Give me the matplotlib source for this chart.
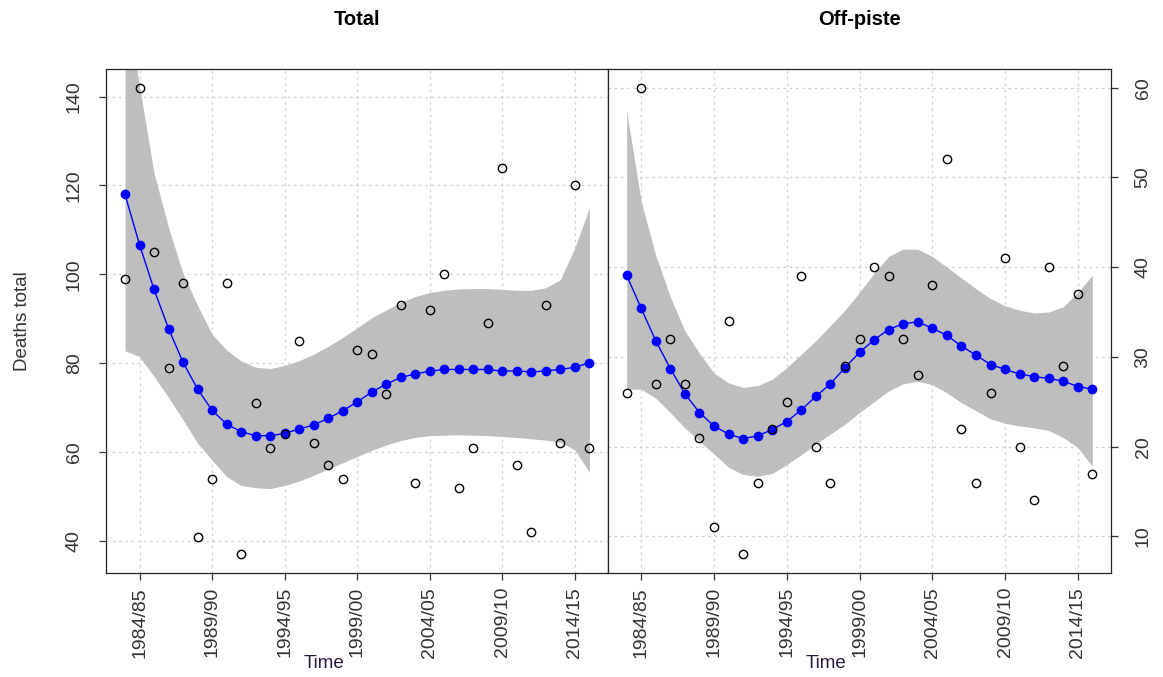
import numpy as np
import matplotlib
matplotlib.use("Agg")
import matplotlib.pyplot as plt

plt.rcParams['font.family'] = ['Liberation Sans', 'DejaVu Sans']

# seasons 1983/84 .. 2015/16, stored as the starting year
years = np.arange(1983, 2016)
tick_years = [1984, 1989, 1994, 1999, 2004, 2009, 2014]
tick_labels = ["1984/85", "1989/90", "1994/95", "1999/00", "2004/05", "2009/10", "2014/15"]

# observed deaths per season
total = [99, 142, 105, 79, 98, 41, 54, 98, 37, 71, 61, 64, 85, 62, 57, 54, 83,
         82, 73, 93, 53, 92, 100, 52, 61, 89, 124, 57, 42, 93, 62, 120, 61]
offpiste = [26, 60, 27, 32, 27, 21, 11, 34, 8, 16, 22, 25, 39, 20, 16, 29, 32,
            40, 39, 32, 28, 38, 52, 22, 16, 26, 41, 20, 14, 40, 29, 37, 17]

# smoothed trend and its confidence band
total_fit = [118.0, 106.7, 96.6, 87.8, 80.2, 74.2, 69.4, 66.3, 64.6, 63.7, 63.7,
             64.2, 65.2, 66.1, 67.6, 69.3, 71.3, 73.5, 75.3, 76.8, 77.6, 78.2,
             78.6, 78.6, 78.6, 78.6, 78.2, 78.3, 78.0, 78.3, 78.6, 79.1, 80.1]
total_hi = [165, 142.3, 122.8, 110.5, 100.2, 93, 86.5, 83, 80.5, 79.1, 78.8,
            79.5, 80.6, 82, 83.8, 85.8, 88, 90.2, 92, 93.7, 95, 95.9, 96.4,
            96.7, 96.8, 96.8, 96.6, 96.4, 96.4, 97, 98.8, 106, 115]
total_lo = [82.8, 81.5, 77, 72.3, 67.3, 62, 58.2, 54.5, 52.5, 52, 51.8, 52.5,
            53.5, 54.8, 56.2, 57.6, 59, 60.4, 61.6, 62.6, 63.3, 63.7, 63.8,
            63.9, 63.8, 63.7, 63.5, 63.3, 63.0, 62.7, 62.2, 60.5, 55.4]

off_fit = [39.1, 35.4, 31.8, 28.7, 25.9, 23.8, 22.3, 21.4, 20.9, 21.2, 21.9,
           22.8, 24.1, 25.6, 27.0, 28.8, 30.5, 31.9, 33.05, 33.7, 33.9, 33.2,
           32.4, 31.2, 30.2, 29.15, 28.6, 28.1, 27.8, 27.6, 27.3, 26.7, 26.4]
off_hi = [57.4, 47.3, 41.3, 36.7, 32.9, 30.4, 28.2, 27.1, 26.6, 26.8, 27.5,
          28.8, 30.3, 31.8, 33.5, 35.2, 37.2, 39.3, 41.2, 42.0, 42.0, 41.2,
          40.0, 38.8, 37.6, 36.5, 35.7, 35.2, 34.9, 35.0, 35.6, 37.2, 39.1]
off_lo = [26.4, 26.4, 25.4, 23.8, 22.1, 20.6, 19.2, 17.7, 16.9, 16.7, 17.0,
          18.0, 19.1, 20.3, 21.4, 22.5, 23.8, 25.0, 26.2, 27.0, 27.3, 26.9,
          26.0, 24.9, 24.0, 23.1, 22.6, 22.3, 22.1, 21.8, 21.0, 19.9, 17.8]

fig = plt.figure(figsize=(11.63, 6.77), dpi=100)
ax1 = fig.add_axes([0.0915, 0.1536, 0.4313, 0.7445])
ax2 = fig.add_axes([0.5228, 0.1536, 0.4325, 0.7445])

txt = '#333333'


def panel(ax, obs, fit, lo, hi, title, ylim, yticks, right=False):
    ax.set_axisbelow(True)
    ax.grid(True, color='#cfcfcf', linestyle=(0, (2, 3)), linewidth=0.9)
    ax.fill_between(years, lo, hi, color='#bebebe', linewidth=0, zorder=2)
    ax.plot(years, fit, color='blue', lw=1, marker='o', ms=6,
            mec='blue', mfc='blue', zorder=3)
    ax.plot(years, obs, linestyle='none', marker='o', ms=6, mfc='none',
            mec='black', mew=1.0, zorder=4)

    pad = 0.04 * (years[-1] - years[0])
    ax.set_xlim(years[0] - pad, years[-1] + pad)
    ax.set_ylim(*ylim)
    ax.set_xticks(tick_years)
    ax.set_xticklabels(tick_labels, rotation=90, fontsize=14, color=txt)
    ax.set_yticks(yticks)
    ax.set_yticklabels([str(v) for v in yticks], rotation=90, va='center',
                       fontsize=14, color=txt)
    ax.tick_params(axis='x', length=5, width=0.9, color='#333333', pad=5)
    ax.tick_params(axis='y', length=5, width=0.9, color='#333333', pad=12)
    if right:
        ax.yaxis.tick_right()
    for s in ax.spines.values():
        s.set_color('#222222')
        s.set_linewidth(0.9)

    ax.set_title(title, fontsize=14.5, fontweight='bold', pad=32)
    ax.set_xlabel('Time', fontsize=13.5, color='#2a1a3a', va='center')
    ax.xaxis.set_label_coords(0.434, -0.18)


panel(ax1, total, total_fit, total_lo, total_hi, 'Total',
      (32.8, 146.2), [40, 60, 80, 100, 120, 140])
ax1.set_ylabel('Deaths total', fontsize=13.5, color=txt)
ax1.yaxis.set_label_coords(-0.15, 0.5)

panel(ax2, offpiste, off_fit, off_lo, off_hi, 'Off-piste',
      (5.92, 62.08), [10, 20, 30, 40, 50, 60], right=True)

fig.savefig('out.png', dpi=100)
